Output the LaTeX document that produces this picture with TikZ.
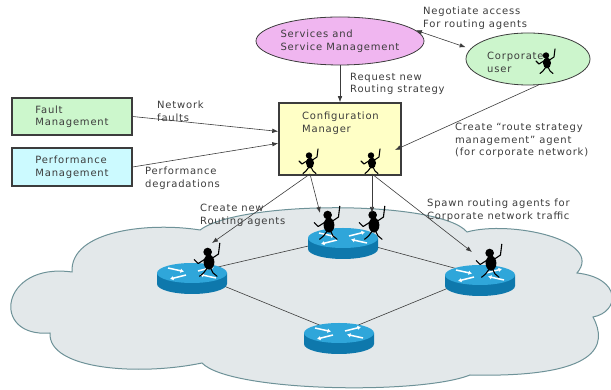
\documentclass[tikz,border=0pt]{standalone}
\usepackage{fontspec}
\newfontfamily\lblfont{DejaVu Sans}[LetterSpace=8]
\usetikzlibrary{shapes.geometric, arrows.meta}

\definecolor{svcpink}{HTML}{F0B6F0}
\definecolor{usrgreen}{HTML}{CCF5CC}
\definecolor{fltgreen}{HTML}{CCF7CC}
\definecolor{prfcyan}{HTML}{CCFAFF}
\definecolor{cfgyellow}{HTML}{FFFFC6}
\definecolor{cloudfill}{HTML}{E3E8EA}
\definecolor{cloudline}{HTML}{6E9298}
\definecolor{rtrtop}{HTML}{2FA6DA}
\definecolor{rtrside}{HTML}{0E78AC}
\definecolor{ink}{HTML}{3C3C3C}

\tikzset{
  txt/.style={font=\lblfont\fontsize{10}{12.5}\selectfont, text=ink},
  lbl/.style={txt, align=left, inner sep=0pt, anchor=north west},
  box/.style={txt, draw=ink, line width=1.2pt, minimum width=120pt, minimum height=37pt, align=left, inner sep=0pt},
  blob/.style={txt, ellipse, draw=ink, line width=0.8pt, inner sep=0pt, align=left},
  conn/.style={draw=ink, line width=0.6pt, >={Latex[length=6pt, width=4.5pt]}},
  % little running agent, origin at the feet
  agent/.pic={
    \fill[black] (0,11) ellipse[x radius=4pt, y radius=5.5pt];
    \fill[black] (-1,18.5) circle[radius=3.2pt];
    \draw[black, line width=1.1pt, line cap=round, line join=round]
      (-1,7) -- (-4,3) -- (-7,0.5)
      (1,7) -- (3,3) -- (6,0.5)
      (2.5,14) -- (7,17) -- (8,25)
      (-2.5,13.5) -- (-8,10) -- (-11,13);
  },
  % router cylinder, origin at the middle of the top face
  router/.pic={
    \fill[rtrside] (-35,0) -- (-35,-11) arc[start angle=180, end angle=360, x radius=35pt, y radius=10pt] -- (35,0) -- cycle;
    \fill[rtrtop] (0,0) ellipse[x radius=35pt, y radius=10pt];
    \begin{scope}[white, line width=1.5pt, -{Latex[length=3.5pt, width=4.5pt]}]
      \draw (-24,5) -- (-8,1.5);
      \draw (24,-5) -- (8,-1.5);
      \draw (6,2) -- (22,6);
      \draw (-6,-2) -- (-22,-6);
    \end{scope}
  }
}

\begin{document}
\begin{tikzpicture}[x=1pt, y=1pt]
	\useasboundingbox (0,0) rectangle (611,390);

	% the network cloud
	\draw[fill=cloudfill, draw=cloudline, line width=1pt]
	(72,118) .. controls (0,128) and (-10,52) .. (50,57)
	.. controls (48,20) and (140,14) .. (202,27)
	.. controls (230,-2) and (420,-5) .. (470,15)
	.. controls (600,12) and (608,45) .. (593,73)
	.. controls (620,78) and (622,112) .. (577,117)
	.. controls (605,150) and (510,170) .. (467,158)
	.. controls (440,190) and (240,190) .. (200,160)
	.. controls (150,168) and (70,160) .. (72,118) -- cycle;

	% routers
	\coordinate (rtrL) at (192,117);
	\coordinate (rtrT) at (343,152);
	\coordinate (rtrR) at (480,115);
	\coordinate (rtrB) at (339,57);
	\draw[conn] (rtrL) -- (rtrT) -- (rtrR) -- (rtrB) -- (rtrL);
	\pic at (rtrL) {router};
	\pic at (rtrT) {router};
	\pic at (rtrR) {router};
	\pic at (rtrB) {router};

	% agents living on the routers
	\pic[scale=1.35] at (209,113) {agent};
	\pic[scale=1.35] at (329,150) {agent};
	\pic[scale=1.35] at (374,150) {agent};
	\pic[scale=1.35] at (491,112) {agent};

	% management blocks
	\node[blob, fill=svcpink, minimum width=154pt, minimum height=48pt] (svc) at (340,349) {Services and\\Service Management};
	\node[blob, fill=usrgreen, minimum width=124pt, minimum height=52pt] (usr) at (528,331) {};
	\node[lbl] (usrtxt) at (487,338) {Corporate\\user};
	\node[box, fill=fltgreen] (flt) at (72,273.5) {Fault\\Management};
	\node[box, fill=prfcyan, minimum height=38pt] (prf) at (72,223) {Performance\\Management};
	\node[box, fill=cfgyellow, minimum width=122pt, minimum height=72pt, line width=1.5pt] (cfg) at (340,251) {};
	\node[lbl] (cfgtxt) at (302,278) {Configuration\\Manager};

	% agents
	\coordinate (agU) at (547,316);
	\coordinate (agC1) at (310,216);
	\coordinate (agC2) at (372,216);
	\pic at (agU) {agent};
	\pic at (agC1) {agent};
	\pic at (agC2) {agent};

	% arrow ends
	\coordinate (reqin) at (395,240);
	\coordinate (tipL) at (212,147);
	\coordinate (tipT1) at (320,177);
	\coordinate (tipT2) at (372,177);
	\coordinate (tipR) at (472,138);

	% connectors
	\draw[conn, <->, shorten >=5pt] (svc.8) -- (usr.170);
	\draw[conn, ->] (svc.south) -- (cfg.north);
	\draw[conn, ->] (usr.-68) -- (reqin);
	\draw[conn, ->] (flt.east) -- (cfg.173);
	\draw[conn, ->] (prf.east) -- (cfg.184);
	\draw[conn, ->] (agC1) -- (tipL);
	\draw[conn, ->] (agC1) -- (tipT1);
	\draw[conn, ->] (agC2) -- (tipT2);
	\draw[conn, ->] (agC2) -- (tipR);

	% labels
	\node[lbl] (neg) at (423,383) {Negotiate access\\For routing agents};
	\node[lbl] (req) at (350,317) {Request new\\Routing strategy};
	\node[lbl] (net) at (157,289) {Network\\faults};
	\node[lbl] (deg) at (145,223) {Performance\\degradations};
	\node[lbl] (rsm) at (455,267) {Create “route strategy\\management” agent\\(for corporate network)};
	\node[lbl] (spawn) at (427,191) {Spawn routing agents for\\Corporate network traffic};
	\node[lbl] (newag) at (200,186) {Create new\\Routing agents};
\end{tikzpicture}
\end{document}
